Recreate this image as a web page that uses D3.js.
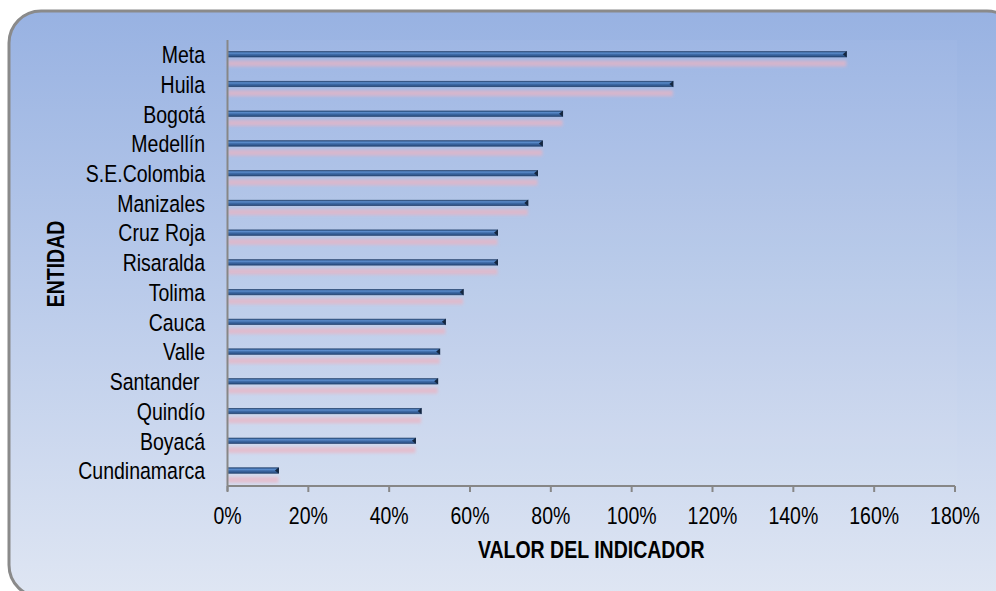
<!DOCTYPE html>
<html>
<head>
<meta charset="utf-8">
<script src="https://cdnjs.cloudflare.com/ajax/libs/d3/7.8.5/d3.min.js"></script>
<style>
  body { margin: 0; background: #fff; }
  text { font-family: "Liberation Sans", Arial, sans-serif; fill: #000; }
</style>
</head>
<body>
<script>
// data
var entidades = ["Meta", "Huila", "Bogotá", "Medellín", "S.E.Colombia", "Manizales", "Cruz Roja",
                 "Risaralda", "Tolima", "Cauca", "Valle", "Santander ", "Quindío", "Boyacá", "Cundinamarca"];
var valores = [153.1, 110.2, 82.9, 77.9, 76.7, 74.3, 66.8, 66.8, 58.3, 53.9, 52.5, 52.0, 47.9, 46.5, 12.6];
var ticks = [0, 20, 40, 60, 80, 100, 120, 140, 160, 180];

var W = 996, H = 591;
var pLeft = 227.5, pRight = 955, pTop = 40, pBottom = 486;
var fs = 23.5, narrow = 0.83; // narrow face, like Arial Narrow

var svg = d3.select("body").append("svg").attr("width", W).attr("height", H);
var defs = svg.append("defs");

var bg = defs.append("linearGradient").attr("id", "bg").attr("x1", 0).attr("y1", 0).attr("x2", 0).attr("y2", 1);
bg.append("stop").attr("offset", "0%").attr("stop-color", "#98b2e2");
bg.append("stop").attr("offset", "100%").attr("stop-color", "#dfe6f3");

var bar = defs.append("linearGradient").attr("id", "bar").attr("x1", 0).attr("y1", 0).attr("x2", 0).attr("y2", 1);
bar.append("stop").attr("offset", "0%").attr("stop-color", "#2c5284");
bar.append("stop").attr("offset", "30%").attr("stop-color", "#5b8ccc");
bar.append("stop").attr("offset", "55%").attr("stop-color", "#3d6aa6");
bar.append("stop").attr("offset", "100%").attr("stop-color", "#27497a");

defs.append("filter").attr("id", "blur").attr("x", "-5%").attr("y", "-100%").attr("width", "110%").attr("height", "300%")
    .append("feGaussianBlur").attr("stdDeviation", 1.5);

// frame
svg.append("rect")
    .attr("x", 9).attr("y", 11).attr("width", 1010).attr("height", 586)
    .attr("rx", 32).attr("ry", 32)
    .attr("fill", "url(#bg)").attr("stroke", "#8a8a8a").attr("stroke-width", 3);

// plot area, a touch lighter
svg.append("rect")
    .attr("x", pLeft).attr("y", pTop).attr("width", pRight - pLeft + 2).attr("height", pBottom - pTop)
    .attr("fill", "#ffffff").attr("opacity", 0.04);

var x = d3.scaleLinear().domain([0, 180]).range([pLeft, pRight]);
var y = d3.scaleBand().domain(entidades).range([pTop, pBottom]);

// reflections
svg.append("g").selectAll("rect").data(entidades).join("rect")
    .attr("x", x(0))
    .attr("y", function(d) { return y(d) + 20.5; })
    .attr("width", function(d, i) { return x(valores[i]) - x(0); })
    .attr("height", 6)
    .attr("fill", "#ebb4c2").attr("opacity", 0.7)
    .attr("filter", "url(#blur)");

// bars
var gb = svg.append("g");
gb.selectAll("rect").data(entidades).join("rect")
    .attr("x", x(0))
    .attr("y", function(d) { return y(d) + 11.5; })
    .attr("width", function(d, i) { return x(valores[i]) - x(0); })
    .attr("height", 5.5)
    .attr("fill", "url(#bar)")
    .attr("stroke", "#23406a").attr("stroke-width", 0.6);
gb.selectAll("path").data(entidades).join("path")
    .attr("d", function(d, i) {
        var xe = x(valores[i]), yc = y(d) + 14.25;
        return "M" + (xe + 0.5) + "," + (yc - 3.3) + "L" + (xe - 3.5) + "," + yc + "L" + (xe + 0.5) + "," + (yc + 3.3) + "Z";
    })
    .attr("fill", "#14263f");

// axes
var ax = svg.append("g").attr("stroke", "#878787").attr("stroke-width", 2).attr("fill", "none");
ax.append("line").attr("x1", pLeft).attr("x2", pLeft).attr("y1", pTop).attr("y2", pBottom + 5);
ax.append("line").attr("x1", pLeft).attr("x2", pRight).attr("y1", pBottom).attr("y2", pBottom);
ax.selectAll(".tk").data(ticks).join("line").attr("class", "tk")
    .attr("x1", function(d) { return x(d); }).attr("x2", function(d) { return x(d); })
    .attr("y1", pBottom).attr("y2", pBottom + 6);

// category labels
svg.append("g").selectAll("text").data(entidades).join("text")
    .attr("transform", function(d) { return "translate(205," + (y(d) + y.bandwidth() / 2 + 8.2) + ") scale(" + narrow + ",1)"; })
    .attr("text-anchor", "end")
    .style("font-size", fs + "px")
    .style("white-space", "pre")
    .text(function(d) { return d; });

// tick labels
svg.append("g").selectAll("text").data(ticks).join("text")
    .attr("transform", function(d) { return "translate(" + x(d) + ",524) scale(" + narrow + ",1)"; })
    .attr("text-anchor", "middle")
    .style("font-size", fs + "px")
    .text(function(d) { return d + "%"; });

// axis titles
svg.append("text")
    .attr("transform", "translate(" + ((pLeft + pRight) / 2) + ",558) scale(" + narrow + ",1)")
    .attr("text-anchor", "middle")
    .style("font-size", fs + "px").style("font-weight", "bold")
    .text("VALOR DEL INDICADOR");
svg.append("text")
    .attr("transform", "translate(63.5,264) rotate(-90) scale(" + narrow + ",1)")
    .attr("text-anchor", "middle")
    .style("font-size", fs + "px").style("font-weight", "bold")
    .text("ENTIDAD");
</script>
</body>
</html>
